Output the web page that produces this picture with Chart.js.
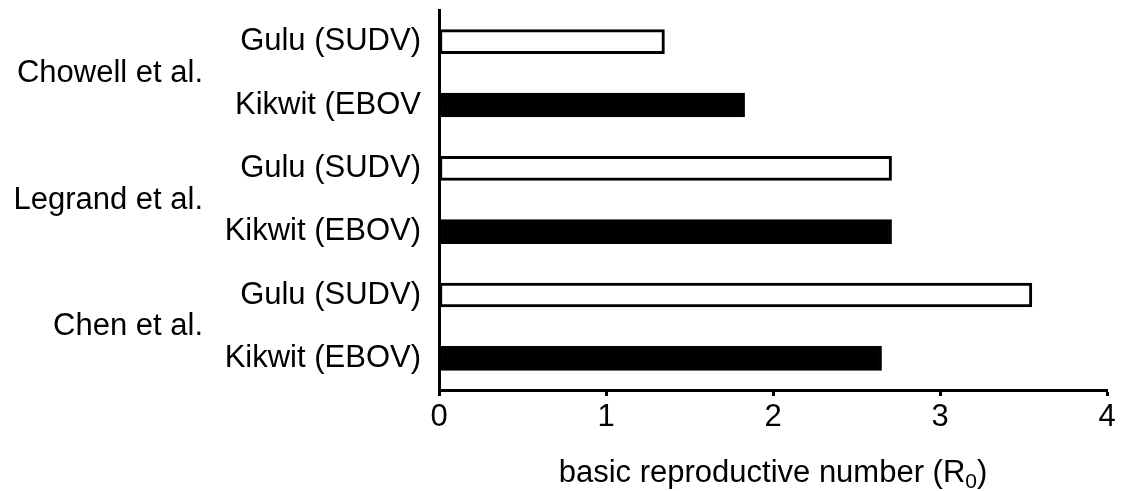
<!DOCTYPE html>
<html>
<head>
<meta charset="utf-8">
<script src="https://cdn.jsdelivr.net/npm/chart.js@4"></script>
<style>
  html, body { margin: 0; padding: 0; background: #fff; }
  #wrap { width: 1121px; height: 491px; }
</style>
</head>
<body>
<div id="wrap"><canvas id="r0Chart"></canvas></div>
<script>
// studies, each covering two outbreak rows (top to bottom)
const studies = ['Chowell et al.', 'Legrand et al.', 'Chen et al.'];
const outbreaks = ['Gulu (SUDV)', 'Kikwit (EBOV', 'Gulu (SUDV)', 'Kikwit (EBOV)', 'Gulu (SUDV)', 'Kikwit (EBOV)'];
const virus = ['SUDV', 'EBOV', 'SUDV', 'EBOV', 'SUDV', 'EBOV'];
const r0Values = [1.35, 1.83, 2.71, 2.71, 3.55, 2.65];
const xTicks = [0, 1, 2, 3, 4];
const xTitle = ['basic reproductive number (R', '0', ')'];

const FONT = '"Liberation Sans", Arial, Helvetica, sans-serif';
const FSIZE = 31;

// study names left of the outbreak labels + x title with a real subscript
const extraText = {
    id: 'extraText',
    afterDraw(chart) {
        const ctx = chart.ctx;
        const y = chart.scales.y;
        const x = chart.scales.x;
        ctx.save();
        ctx.fillStyle = '#000';
        ctx.font = FSIZE + 'px ' + FONT;
        ctx.textAlign = 'right';
        ctx.textBaseline = 'middle';
        studies.forEach((name, i) => {
            const yy = (y.getPixelForValue(i * 2) + y.getPixelForValue(i * 2 + 1)) / 2;
            ctx.fillText(name, 203, yy);
        });

        const big = FSIZE + 'px ' + FONT;
        const small = Math.round(FSIZE * 0.68) + 'px ' + FONT;
        ctx.textAlign = 'left';
        ctx.textBaseline = 'alphabetic';
        ctx.font = big; const w0 = ctx.measureText(xTitle[0]).width;
        ctx.font = small; const w1 = ctx.measureText(xTitle[1]).width;
        ctx.font = big; const w2 = ctx.measureText(xTitle[2]).width;
        let tx = (x.left + x.right) / 2 - (w0 + w1 + w2) / 2;
        const base = x.bottom - 9;
        ctx.font = big; ctx.fillText(xTitle[0], tx, base); tx += w0;
        ctx.font = small; ctx.fillText(xTitle[1], tx, base + 6); tx += w1;
        ctx.font = big; ctx.fillText(xTitle[2], tx, base);
        ctx.restore();
    }
};

new Chart(document.getElementById('r0Chart').getContext('2d'), {
    type: 'bar',
    data: {
        labels: outbreaks,
        datasets: [{
            data: r0Values,
            backgroundColor: virus.map(v => v === 'EBOV' ? '#000' : '#fff'),
            borderColor: '#000',
            borderWidth: 3,
            borderSkipped: false,
            barThickness: 24
        }]
    },
    options: {
        indexAxis: 'y',
        responsive: true,
        maintainAspectRatio: false,
        animation: false,
        layout: { padding: { top: 10, right: 14, left: 0, bottom: 0 } },
        plugins: {
            legend: { display: false },
            tooltip: { enabled: false }
        },
        scales: {
            x: {
                min: 0,
                max: 4,
                afterBuildTicks: s => { s.ticks = xTicks.map(v => ({ value: v })); },
                afterFit: s => { s.height = 101; s.paddingLeft = 0; },
                grid: {
                    drawOnChartArea: false,
                    drawTicks: true,
                    tickLength: 6,
                    tickWidth: 3,
                    tickColor: '#000'
                },
                border: { display: true, color: '#000', width: 3 },
                ticks: {
                    color: '#000',
                    padding: 3,
                    font: { family: FONT, size: FSIZE }
                }
            },
            y: {
                afterFit: s => { s.width = 439; s.paddingTop = 0; s.paddingBottom = 0; },
                grid: { display: false, drawTicks: false },
                border: { display: true, color: '#000', width: 3 },
                ticks: {
                    color: '#000',
                    padding: 18,
                    font: { family: FONT, size: FSIZE }
                }
            }
        }
    },
    plugins: [extraText]
});
</script>
</body>
</html>
